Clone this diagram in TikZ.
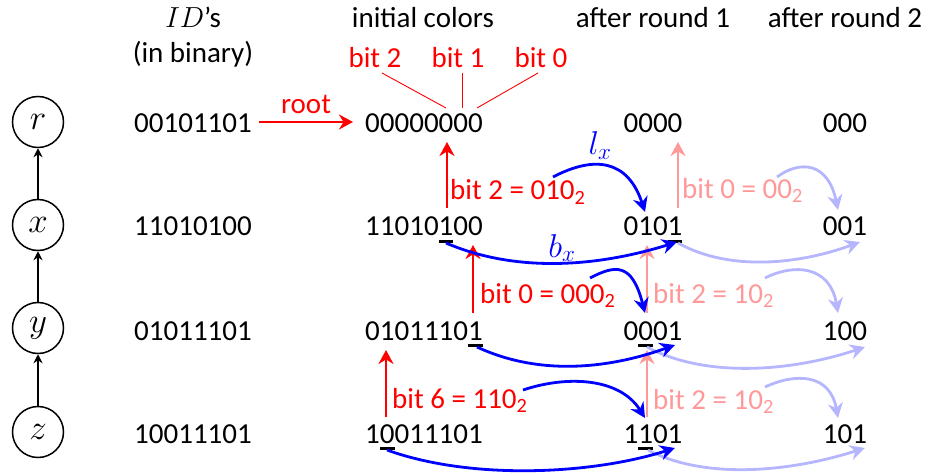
\RequirePackage{fix-cm}
\documentclass[tikz,border=0pt]{standalone}
\usepackage{fontspec}
\setmainfont{Carlito}
\usetikzlibrary{arrows.meta}
\definecolor{pinkred}{RGB}{255,153,153}
\definecolor{lightblue}{RGB}{182,182,255}
\newcommand\ubit[1]{\setbox0\hbox{#1}\rlap{\rule[-0.24em]{\wd0}{0.085em}}#1}
\begin{document}
\begin{tikzpicture}[x=1pt,y=-1pt,
  every node/.style={font=\fontsize{29}{34}\selectfont, inner sep=0pt},
  txt/.style={anchor=base},
  lab/.style={anchor=base west},
  mathlab/.style={anchor=base, font=\fontsize{33}{38}\selectfont},
  tree/.style={circle, draw, line width=1.5pt, minimum size=51pt, inner sep=0pt, font=\fontsize{35}{40}\selectfont},
  treearrow/.style={line width=1.5pt, -{Stealth[length=9pt,width=9pt]}},
  redarrow/.style={red, line width=2.6pt, -{Stealth[length=14pt,width=15pt]}},
  pinkarrow/.style={pinkred, line width=2.6pt, -{Stealth[length=14pt,width=15pt]}},
  bluearrow/.style={blue, line width=2.8pt, -{Stealth[length=15pt,width=15pt]}},
  lbluearrow/.style={lightblue, line width=2.8pt, -{Stealth[length=15pt,width=15pt]}},
  bitline/.style={red, line width=0.9pt}
]
\useasboundingbox (0,0) rectangle (927,476);

% tree
\node[tree] (r) at (38,122) {$r$};
\node[tree] (x) at (38,225) {$x$};
\node[tree] (y) at (38,328) {$y$};
\node[tree] (z) at (38,432) {$z$};
\draw[treearrow] (x) -- (r);
\draw[treearrow] (y) -- (x);
\draw[treearrow] (z) -- (y);

% headers
\node[txt] (hid) at (193,28) {$ID$'s};
\node[txt] (hbin) at (193,63) {(in binary)};
\node[txt] (hinit) at (423,28) {initial colors};
\node[txt] (hr1) at (653,28) {after round 1};
\node[txt] (hr2) at (845,28) {after round 2};

% bit labels
\node[txt, red] (b2) at (375,68) {bit 2};
\node[txt, red] (b1) at (458,68) {bit 1};
\node[txt, red] (b0) at (541,68) {bit 0};
\coordinate (b2e) at (446,108);
\coordinate (b1e) at (462,108);
\coordinate (b0e) at (477,108);
\coordinate (b2s) at (382,73);
\coordinate (b1s) at (462,73);
\coordinate (b0s) at (538,73);
\draw[bitline] (b2s) -- (b2e);
\draw[bitline] (b1s) -- (b1e);
\draw[bitline] (b0s) -- (b0e);

% ID column
\node[txt] (idr) at (193,133) {00101101};
\node[txt] (idx) at (193,236) {11010100};
\node[txt] (idy) at (193,340) {01011101};
\node[txt] (idz) at (193,443) {10011101};

% initial colors
\node[txt] (c0r) at (424,133) {00000000};
\node[txt] (c0x) at (424,236) {11010\ubit{1}00};
\node[txt] (c0y) at (424,340) {0101110\ubit{1}};
\node[txt] (c0z) at (424,443) {1\ubit{0}011101};

% round 1
\node[txt] (c1r) at (653,133) {0000};
\node[txt] (c1x) at (653,236) {010\ubit{1}};
\node[txt] (c1y) at (653,340) {0\ubit{0}01};
\node[txt] (c1z) at (653,443) {1\ubit{1}01};

% round 2
\node[txt] (c2r) at (845,133) {000};
\node[txt] (c2x) at (845,236) {001};
\node[txt] (c2y) at (845,340) {100};
\node[txt] (c2z) at (845,443) {101};

% root arrow
\coordinate (rs) at (259,122);
\coordinate (re) at (353,122);
\draw[redarrow] (rs) -- (re) node[midway, above=7pt, red] (rootlab) {root};

% red vertical arrows (initial colors)
\coordinate (ra1s) at (447,208); \coordinate (ra1e) at (447,142);
\coordinate (ra2s) at (473,313); \coordinate (ra2e) at (473,245);
\coordinate (ra3s) at (386,417); \coordinate (ra3e) at (386,350);
\draw[redarrow] (ra1s) -- (ra1e);
\draw[redarrow] (ra2s) -- (ra2e);
\draw[redarrow] (ra3s) -- (ra3e);
\node[lab, red] (rl1) at (450,200) {bit 2 = 010\textsubscript{2}};
\node[lab, red] (rl2) at (480,303) {bit 0 = 000\textsubscript{2}};
\node[lab, red] (rl3) at (392,408) {bit 6 = 110\textsubscript{2}};

% pink vertical arrows (round 1)
\coordinate (pa1s) at (678,208); \coordinate (pa1e) at (678,142);
\coordinate (pa2s) at (647,313); \coordinate (pa2e) at (647,245);
\coordinate (pa3s) at (647,417); \coordinate (pa3e) at (647,350);
\draw[pinkarrow] (pa1s) -- (pa1e);
\draw[pinkarrow] (pa2s) -- (pa2e);
\draw[pinkarrow] (pa3s) -- (pa3e);
\node[lab, pinkred] (pl1) at (682,198) {bit 0 = 00\textsubscript{2}};
\node[lab, pinkred] (pl2) at (653,303) {bit 2 = 10\textsubscript{2}};
\node[lab, pinkred] (pl3) at (653,409) {bit 2 = 10\textsubscript{2}};

% light blue arrows (round 2)
\coordinate (lb1s) at (777,177); \coordinate (lb1e) at (838,210);
\coordinate (lb2s) at (765,278); \coordinate (lb2e) at (838,313);
\coordinate (lb3s) at (765,387); \coordinate (lb3e) at (838,418);
\coordinate (lb4s) at (678,243); \coordinate (lb4e) at (860,242);
\coordinate (lb5s) at (647,347); \coordinate (lb5e) at (865,347);
\coordinate (lb6s) at (648,450); \coordinate (lb6e) at (865,448);
\draw[lbluearrow] (lb1s) .. controls (800,160) and (828,162) .. (lb1e);
\draw[lbluearrow] (lb2s) .. controls (795,263) and (830,266) .. (lb2e);
\draw[lbluearrow] (lb3s) .. controls (795,373) and (830,373) .. (lb3e);
\draw[lbluearrow] (lb4s) .. controls (730,272) and (800,264) .. (lb4e);
\draw[lbluearrow] (lb5s) .. controls (705,378) and (790,372) .. (lb5e);
\draw[lbluearrow] (lb6s) .. controls (705,480) and (790,472) .. (lb6e);

% blue arrows (round 1)
\coordinate (bl1s) at (553,177); \coordinate (bl1e) at (645,212);
\coordinate (bl2s) at (590,278); \coordinate (bl2e) at (645,313);
\coordinate (bl3s) at (523,390); \coordinate (bl3e) at (645,418);
\coordinate (bl4s) at (446,243); \coordinate (bl4e) at (677,242);
\coordinate (bl5s) at (477,347); \coordinate (bl5e) at (675,345);
\coordinate (bl6s) at (387,450); \coordinate (bl6e) at (675,448);
\draw[bluearrow] (bl1s) .. controls (595,155) and (628,160) .. (bl1e);
\draw[bluearrow] (bl2s) .. controls (615,265) and (632,262) .. (bl2e);
\draw[bluearrow] (bl3s) .. controls (568,375) and (620,378) .. (bl3e);
\draw[bluearrow] (bl4s) .. controls (516,273) and (597,267) .. (bl4e);
\draw[bluearrow] (bl5s) .. controls (537,375) and (605,370) .. (bl5e);
\draw[bluearrow] (bl6s) .. controls (470,480) and (590,475) .. (bl6e);
\node[mathlab, blue] (lx) at (600,155) {$l_x$};
\node[mathlab, blue] (bx) at (562,257) {$b_x$};
\end{tikzpicture}
\end{document}
